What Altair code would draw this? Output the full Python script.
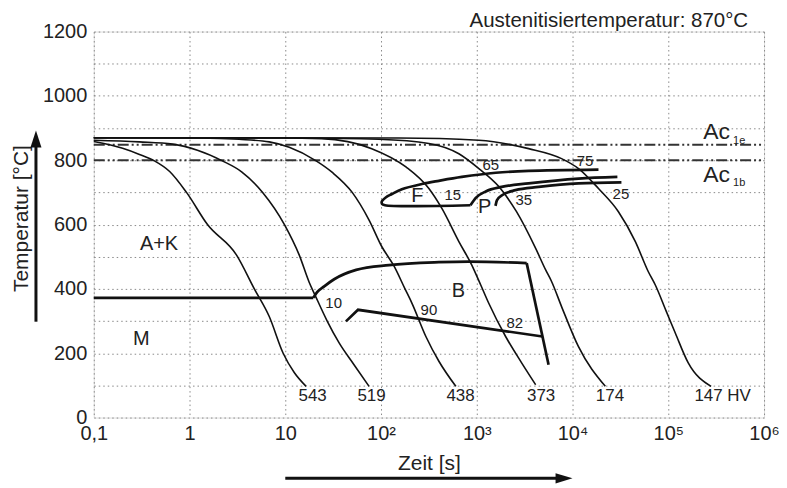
import altair as alt
import pandas as pd

FONT = "Liberation Sans"
INK = "#222222"

# ---------------- cooling curves: time [s] / temperature [°C], final hardness HV
curve_names = ["543", "519", "438", "373", "174", "147"]
t_543 = [0.1, 0.2, 0.3, 0.43, 0.62, 0.93, 1.54, 3.1, 4.75, 6.8, 9.5, 12.4, 16.5]
T_543 = [858, 837, 818, 798, 765, 700, 600, 505, 400, 314, 200, 140, 97]
t_519 = [0.1, 0.3, 0.665, 1.21, 2.2, 3.5, 5.8, 9.8, 14, 17.8, 20.5, 27.4, 36.5, 52, 75]
T_519 = [862, 857, 850, 831, 798, 764, 700, 600, 505, 420, 380, 300, 232, 165, 97]
t_438 = [0.1, 1.27, 3.3, 6.8, 11, 21, 31, 50, 75, 102, 136, 178, 210, 294, 402, 604]
T_438 = [870, 869, 865, 857, 840, 798, 762, 700, 614, 531, 472, 400, 356, 252, 175, 97]
t_373 = [0.1, 8.7, 24, 80, 182, 316, 432, 650, 887, 1100, 1330, 2000, 2940, 4120]
T_373 = [870, 869, 867, 836, 779, 712, 650, 547, 474, 412, 356, 252, 170, 102]
t_174 = [0.1, 14, 95, 316, 650, 1050, 1700, 2600, 4120, 5240, 6040, 7680, 11500, 22000]
T_174 = [870, 869, 865, 852, 820, 774, 718, 640, 526, 459, 423, 345, 221, 97]
t_147 = [0.1, 154, 1050, 3480, 7680, 11550, 18660, 30150, 45300, 61700, 73200,
         95300, 118300, 161600, 280000]
T_147 = [870, 869, 862, 836, 805, 774, 712, 640, 547, 454, 412, 330, 263, 170, 97]

# ---------------- transformation lines
# bainite start (smooth)
t_bs = [19.6, 21.5, 25.5, 32.4, 55, 121, 402, 826, 3320]
T_bs = [372, 390, 408, 430, 459, 474, 483, 485, 480]
# pearlite start / end (smooth)
t_ps = [859, 977, 1241, 1820, 3480, 11550, 29400]
T_ps = [660, 683, 703, 717, 728, 743, 748]
t_pf = [1567, 1627, 1835, 2530, 4430, 11550, 32400]
T_pf = [658, 676, 691, 707, 717, 728, 731]
# ferrite nose (path, in drawing order)
t_f = [859, 110, 102.5, 102, 112.8, 130, 165, 267, 402, 698, 1578, 3480, 18660]
T_f = [660, 660, 664, 672, 685, 695, 710, 726, 736, 748, 761, 767, 771]
# straight lines: Ms, bainite right boundary, bainite lower line
t_ms = [0.1, 19.6]
T_ms = [372, 372]
t_br = [3320, 5620]
T_br = [480, 164]
t_bl = [43, 57.5, 4860]
T_bl = [299, 335, 252]

# Ac lines
ac_names = ["Ac1e", "Ac1b"]
ac_T = [848, 800]
ac_t_range = [0.1, 1e6]

# ---------------- labels
lab_text = ["A+K", "M", "F", "P", "B", "15", "65", "35", "75", "25", "10", "90", "82",
            "543", "519", "438", "373", "174", "147 HV"]
lab_t = [0.48, 0.313, 240, 1210, 641, 562, 1400, 3090, 13500, 32000, 32, 316, 2490,
         19.3, 79.6, 676, 4700, 24600, 369700]
lab_T = [538, 243, 690, 653, 392, 691, 784, 676, 797, 695, 355, 335, 293,
         67, 67, 67, 67, 67, 67]
lab_size = [20, 20, 20, 20, 20, 15, 15, 15, 15, 15, 15, 15, 15,
            17, 17, 17, 17, 17, 17]

ac_lab_text = ["Ac", "1e", "Ac", "1b"]
ac_lab_t = [320000, 550000, 320000, 550000]
ac_lab_T = [888, 859, 753, 729]
ac_lab_size = [23, 11, 23, 11]

# title text (top right, right-aligned)
title_text = ["Austenitisiertemperatur: 870°C"]
title_t = [681000]
title_T = [1214]

# axis ticks
x_ticks = [0.1, 1, 10, 100, 1e3, 1e4, 1e5, 1e6]
x_tick_labels = ["0,1", "1", "10", "10²", "10³", "10⁴", "10⁵", "10⁶"]
y_ticks = list(range(0, 1201, 100))

# arrows beside the axes (data coordinates outside the plot area)
arrow_y_t = [0.0249, 0.0249]
arrow_y_T = [298, 846]
arrow_x_t = [10, 7500]
arrow_x_T = [-189, -189]
head_t = [0.0249, 8150]
head_T = [866, -189]
head_shape = ["M-0.65,1L0,-1L0.65,1Z", "M-1,-0.6L1,0L-1,0.6Z"]

# ---------------- tables
def rows(name, ts, Ts):
    return [{"name": name, "t": a, "T": b, "i": i} for i, (a, b) in enumerate(zip(ts, Ts))]

cool = pd.DataFrame(sum([rows(n, a, b) for n, a, b in zip(
    curve_names, [t_543, t_519, t_438, t_373, t_174, t_147],
    [T_543, T_519, T_438, T_373, T_174, T_147])], []))
smooth = pd.DataFrame(rows("Bs", t_bs, T_bs) + rows("Ps", t_ps, T_ps) + rows("Pf", t_pf, T_pf))
ferrite = pd.DataFrame(rows("F", t_f, T_f))
straight = pd.DataFrame(rows("Ms", t_ms, T_ms) + rows("Br", t_br, T_br) + rows("Bl", t_bl, T_bl))
ac = pd.DataFrame(sum([rows(n, ac_t_range, [v, v]) for n, v in zip(ac_names, ac_T)], []))
labels = pd.DataFrame({"text": lab_text, "t": lab_t, "T": lab_T, "size": lab_size})
ac_labels = pd.DataFrame({"text": ac_lab_text, "t": ac_lab_t, "T": ac_lab_T, "size": ac_lab_size})
title_df = pd.DataFrame({"text": title_text, "t": title_t, "T": title_T})
shafts = pd.DataFrame(rows("ay", arrow_y_t, arrow_y_T) + rows("ax", arrow_x_t, arrow_x_T))
heads = pd.DataFrame({"t": head_t, "T": head_T, "shape": head_shape})

# ---------------- encodings
label_expr = " : ".join(
    [f"datum.value < {v * 3.16} ? '{l}'" for v, l in zip(x_ticks[:-1], x_tick_labels[:-1])]
) + f" : '{x_tick_labels[-1]}'"

X = alt.X("t:Q",
          scale=alt.Scale(type="log", domain=[0.1, 1e6], nice=False),
          axis=alt.Axis(values=x_ticks, labelExpr=label_expr, title="Zeit [s]",
                        grid=True, gridColor="#8a8a8a", gridDash=[1.5, 3], gridWidth=1,
                        tickSize=0, domain=False, labelPadding=6, labelFontSize=20,
                        labelFont=FONT, labelColor=INK, labelFlush=False,
                        titleFontSize=21, titleFont=FONT, titleColor=INK,
                        titleFontWeight="normal", titleY=46, titleBaseline="middle"))
Y = alt.Y("T:Q",
          scale=alt.Scale(domain=[0, 1200], nice=False),
          axis=alt.Axis(values=y_ticks, format="d",
                        labelExpr="datum.value % 200 == 0 ? datum.label : ''",
                        title="Temperatur [°C]",
                        grid=True, gridColor="#8a8a8a", gridDash=[1.5, 3], gridWidth=1,
                        tickSize=0, domain=False, labelPadding=7, labelFontSize=20,
                        labelFont=FONT, labelColor=INK, labelFlush=False,
                        titleFontSize=21, titleFont=FONT, titleColor=INK,
                        titleFontWeight="normal", titleX=-72, titleY=187,
                        titleAngle=270, titleAlign="center", titleBaseline="middle"))

cool_layer = alt.Chart(cool).mark_line(
    interpolate="monotone", color="#111", strokeWidth=1.6
).encode(x=X, y=Y, detail="name:N", order="i:Q")

smooth_layer = alt.Chart(smooth).mark_line(
    interpolate="monotone", color="#111", strokeWidth=2.7
).encode(x=X, y=Y, detail="name:N", order="i:Q")

ferrite_layer = alt.Chart(ferrite).mark_line(
    interpolate="catmull-rom", color="#111", strokeWidth=2.7
).encode(x=X, y=Y, detail="name:N", order="i:Q")

straight_layer = alt.Chart(straight).mark_line(
    interpolate="linear", color="#111", strokeWidth=2.7
).encode(x=X, y=Y, detail="name:N", order="i:Q")

ac_layer = alt.Chart(ac).mark_line(
    color="#333", strokeWidth=2, strokeDash=[11, 3, 2, 3, 2, 3]
).encode(x=X, y=Y, detail="name:N", order="i:Q")

label_layer = alt.Chart(labels).mark_text(
    font=FONT, color=INK, baseline="middle", align="center"
).encode(x=X, y=Y, text="text:N", size=alt.Size("size:Q", scale=None, legend=None))

ac_label_layer = alt.Chart(ac_labels).mark_text(
    font=FONT, color=INK, baseline="middle", align="center"
).encode(x=X, y=Y, text="text:N", size=alt.Size("size:Q", scale=None, legend=None))

title_layer = alt.Chart(title_df).mark_text(
    font=FONT, color=INK, baseline="alphabetic", align="right", fontSize=20.5
).encode(x=X, y=Y, text="text:N")

shaft_layer = alt.Chart(shafts).mark_line(
    color="#111", strokeWidth=3
).encode(x=X, y=Y, detail="name:N", order="i:Q")

head_layer = alt.Chart(heads).mark_point(
    filled=True, color="#111", opacity=1, size=289
).encode(x=X, y=Y, shape=alt.Shape("shape:N", scale=None, legend=None))

chart = alt.layer(
    ac_layer, cool_layer, smooth_layer, ferrite_layer, straight_layer,
    label_layer, ac_label_layer, title_layer, shaft_layer, head_layer
).properties(
    width=672, height=387,
    autosize=alt.AutoSizeParams(type="none"),
    padding={"left": 86, "top": 23, "right": 15, "bottom": 66},
).configure_view(
    stroke="#333", strokeWidth=1.6
).configure(background="white")

chart.save("out.html", embed_options={"renderer": "svg", "actions": False})
